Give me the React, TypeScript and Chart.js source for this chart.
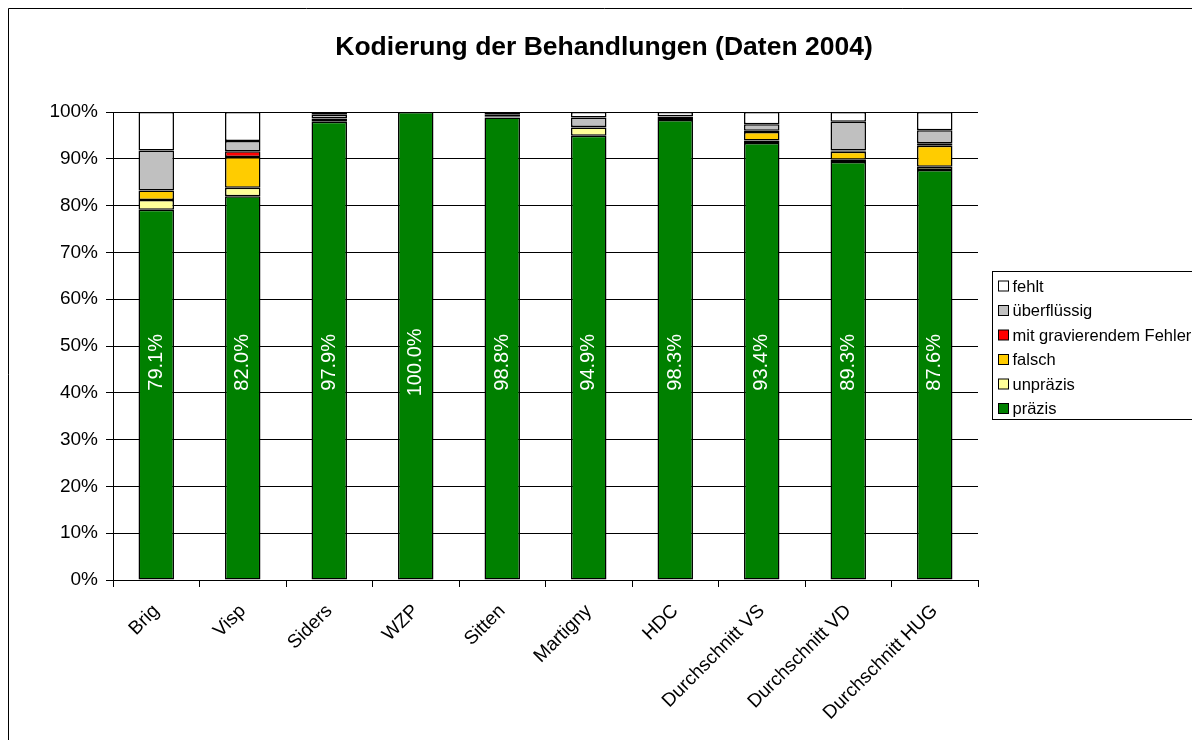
import React, { useEffect, useRef } from "react";
import { Chart, registerables } from "chart.js";

Chart.register(...registerables);

const TITLE = "Kodierung der Behandlungen (Daten 2004)";
const categories = ["Brig", "Visp", "Siders", "WZP", "Sitten", "Martigny", "HDC", "Durchschnitt VS", "Durchschnitt VD", "Durchschnitt HUG"];
const praezis = [79.1, 82.0, 97.9, 100.0, 98.8, 94.9, 98.3, 93.4, 89.3, 87.6];
const unpraezis = [2.1, 1.8, 0.2, 0, 0.1, 1.8, 0.2, 0.5, 0.5, 0.7];
const falsch = [2.0, 6.6, 0.4, 0, 0.2, 0.1, 0.5, 1.8, 1.7, 4.5];
const gravierend = [0, 1.2, 0.1, 0, 0, 0, 0, 0.3, 0.3, 0.5];
const ueberfluessig = [8.6, 2.2, 0.8, 0, 0.4, 2.0, 0.1, 1.4, 6.1, 2.8];
const fehlt = [8.2, 6.2, 0.6, 0, 0.5, 1.2, 0.9, 2.6, 2.1, 3.9];
const yTicks = [0, 10, 20, 30, 40, 50, 60, 70, 80, 90, 100];

const seriesNames = ["präzis", "unpräzis", "falsch", "mit gravierendem Fehler", "überflüssig", "fehlt"];
const seriesValues = [praezis, unpraezis, falsch, gravierend, ueberfluessig, fehlt];
const seriesColors = ["#008000", "#FFFF99", "#FFCC00", "#FF0000", "#C0C0C0", "#FFFFFF"];

const FONT = "'Liberation Sans', Arial, sans-serif";

const decorPlugin = {
  id: "decor",
  afterDatasetsDraw(chart: any) {
    const ctx = chart.ctx;
    const meta = chart.getDatasetMeta(0);
    const yScale = chart.scales.y;
    ctx.save();
    ctx.fillStyle = "#FFFFFF";
    ctx.font = `20px ${FONT}`;
    ctx.textAlign = "center";
    ctx.textBaseline = "middle";
    meta.data.forEach((bar: any, i: number) => {
      const y = yScale.getPixelForValue(46.5);
      ctx.save();
      ctx.translate(bar.x, y);
      ctx.rotate(-Math.PI / 2);
      ctx.fillText(praezis[i].toFixed(1) + "%", 0, 0);
      ctx.restore();
    });
    ctx.restore();
  },
  afterDraw(chart: any) {
    const ctx = chart.ctx;
    ctx.save();
    // outer frame (left / top visible)
    ctx.strokeStyle = "#000";
    ctx.lineWidth = 1;
    ctx.beginPath();
    ctx.moveTo(0.5, chart.height);
    ctx.lineTo(0.5, 0.5);
    ctx.lineTo(chart.width, 0.5);
    ctx.stroke();
    // title
    ctx.fillStyle = "#000";
    ctx.font = `bold 26.5px ${FONT}`;
    ctx.textAlign = "center";
    ctx.textBaseline = "middle";
    ctx.fillText(TITLE, chart.width / 2, 40);
    // legend
    const lx = 984.5, ly = 263.5, lw = 201, lh = 148;
    ctx.fillStyle = "#fff";
    ctx.fillRect(lx, ly, lw, lh);
    ctx.strokeStyle = "#000";
    ctx.strokeRect(lx, ly, lw, lh);
    ctx.font = `16.5px ${FONT}`;
    ctx.textAlign = "left";
    const order = [5, 4, 3, 2, 1, 0];
    order.forEach((k, r) => {
      const cy = ly + 14.5 + r * 24.5;
      ctx.fillStyle = seriesColors[k];
      ctx.fillRect(lx + 6, cy - 5, 10, 10);
      ctx.strokeStyle = "#000";
      ctx.strokeRect(lx + 6, cy - 5, 10, 10);
      ctx.fillStyle = "#000";
      ctx.fillText(seriesNames[k], lx + 20, cy + 1);
    });
    ctx.restore();
  },
};

export default function App() {
  const ref = useRef<HTMLCanvasElement | null>(null);
  useEffect(() => {
    document.body.style.overflow = "hidden";
    const chart = new Chart(ref.current as HTMLCanvasElement, {
      type: "bar",
      data: {
        labels: categories,
        datasets: seriesValues.map((vals, k) => ({
          label: seriesNames[k],
          data: vals,
          backgroundColor: seriesColors[k],
          borderColor: "#000",
          borderWidth: 1.5,
          borderSkipped: false,
          barPercentage: 0.41,
          categoryPercentage: 1,
        })),
      },
      options: {
        responsive: false,
        animation: false,
        layout: { padding: { top: 104, right: 222, left: 0, bottom: 0 } },
        plugins: { legend: { display: false }, title: { display: false }, tooltip: { enabled: false } },
        scales: {
          x: {
            stacked: true,
            offset: true,
            grid: { display: true, drawOnChartArea: false, drawTicks: true, tickLength: 7, color: "#000", offset: true },
            border: { display: true, color: "#000", width: 1 },
            ticks: { color: "#000", font: { family: FONT, size: 19 }, maxRotation: 45, minRotation: 45, padding: 13 },
            afterFit: (s: any) => { s.height = 160; },
          },
          y: {
            stacked: true,
            min: 0,
            max: 100,
            afterBuildTicks: (s: any) => { s.ticks = yTicks.map((v) => ({ value: v })); },
            grid: { color: "#000", lineWidth: 1, tickLength: 7, drawTicks: true },
            border: { display: true, color: "#000", width: 1 },
            ticks: { color: "#000", font: { family: FONT, size: 19 }, padding: 8, callback: (v: any) => v + "%" },
            afterFit: (s: any) => { s.width = 105; },
          },
        },
      },
      plugins: [decorPlugin],
    });
    return () => chart.destroy();
  }, []);
  return <canvas ref={ref} width={1192} height={732} style={{ display: "block" }} />;
}
